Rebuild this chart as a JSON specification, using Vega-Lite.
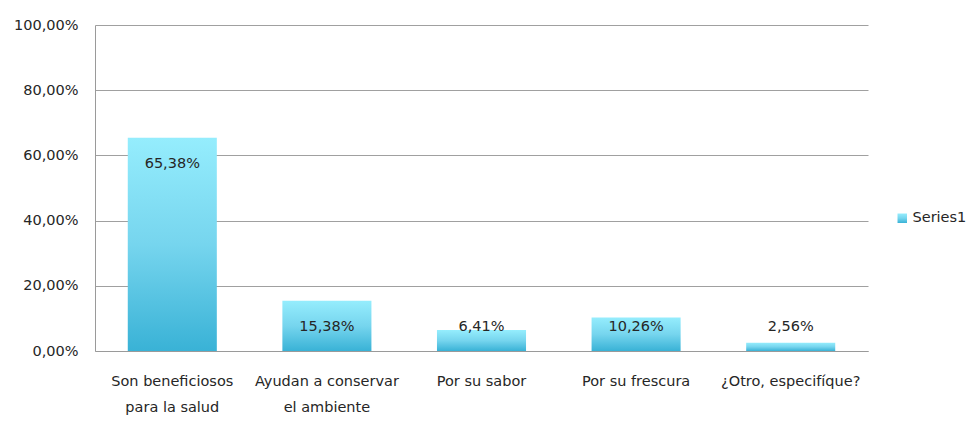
{
  "$schema": "https://vega.github.io/schema/vega-lite/v6.json",
  "width": 773,
  "height": 326,
  "autosize": "none",
  "padding": {"left": 95, "top": 25, "right": 102, "bottom": 70},
  "background": "white",
  "config": {
    "view": {"stroke": null},
    "font": "DejaVu Sans",
    "locale": {"number": {"decimal": ",", "thousands": ".", "grouping": [3], "currency": ["", "€"]}}
  },
  "data": {
    "values": [
      {"categoria": "Son beneficiosos para la salud", "valor": 0.6538, "serie": "Series1"},
      {"categoria": "Ayudan a conservar el ambiente", "valor": 0.1538, "serie": "Series1"},
      {"categoria": "Por su sabor", "valor": 0.0641, "serie": "Series1"},
      {"categoria": "Por su frescura", "valor": 0.1026, "serie": "Series1"},
      {"categoria": "¿Otro, especifíque?", "valor": 0.0256, "serie": "Series1"}
    ]
  },
  "encoding": {
    "x": {
      "field": "categoria",
      "type": "nominal",
      "sort": null,
      "scale": {"paddingInner": 0.424, "paddingOuter": 0.212},
      "axis": {
        "title": null,
        "labelAngle": 0,
        "ticks": false,
        "domainColor": "#9a9a9a",
        "labelFontSize": 14.5,
        "labelColor": "#262626",
        "labelPadding": 23,
        "labelLineHeight": 26,
        "labelOverlap": false,
        "labelLimit": 200,
        "labelExpr": "datum.value == 'Son beneficiosos para la salud' ? ['Son beneficiosos', 'para la salud'] : datum.value == 'Ayudan a conservar el ambiente' ? ['Ayudan a conservar', 'el ambiente'] : datum.value"
      }
    },
    "y": {
      "field": "valor",
      "type": "quantitative",
      "scale": {"domain": [0, 1], "nice": false},
      "axis": {
        "title": null,
        "values": [0, 0.2, 0.4, 0.6, 0.8, 1],
        "format": ".2%",
        "ticks": false,
        "domainColor": "#9a9a9a",
        "gridColor": "#a0a0a0",
        "labelFontSize": 14.5,
        "labelColor": "#262626",
        "labelPadding": 17
      }
    }
  },
  "layer": [
    {
      "mark": {
        "type": "bar",
        "strokeWidth": 0,
        "fill": {
          "gradient": "linear",
          "x1": 0, "y1": 0, "x2": 0, "y2": 1,
          "stops": [
            {"offset": 0, "color": "#95edfd"},
            {"offset": 0.5, "color": "#76d5ee"},
            {"offset": 1, "color": "#39b2d6"}
          ]
        }
      },
      "encoding": {
        "stroke": {
          "field": "serie",
          "type": "nominal",
          "scale": {"range": ["#5cc8e6"]},
          "legend": {
            "title": null,
            "orient": "none",
            "legendX": 800,
            "legendY": 186,
            "symbolType": "square",
            "symbolSize": 90,
            "symbolStrokeWidth": 0,
            "labelFontSize": 14.5,
            "labelColor": "#262626",
            "labelOffset": 3,
            "encode": {
              "symbols": {
                "update": {
                  "fill": {
                    "value": {
                      "gradient": "linear",
                      "x1": 0, "y1": 0, "x2": 0, "y2": 1,
                      "stops": [
                        {"offset": 0, "color": "#95edfd"},
                        {"offset": 1, "color": "#39b2d6"}
                      ]
                    }
                  },
                  "fillOpacity": {"value": 1}
                }
              }
            }
          }
        }
      }
    },
    {
      "mark": {
        "type": "text",
        "baseline": "middle",
        "fontSize": 14.5,
        "color": "#262626",
        "dy": {"expr": "min(26, 302 - scale('y', datum.valor))"}
      },
      "encoding": {
        "text": {"field": "valor", "type": "quantitative", "format": ".2%"}
      }
    }
  ]
}
